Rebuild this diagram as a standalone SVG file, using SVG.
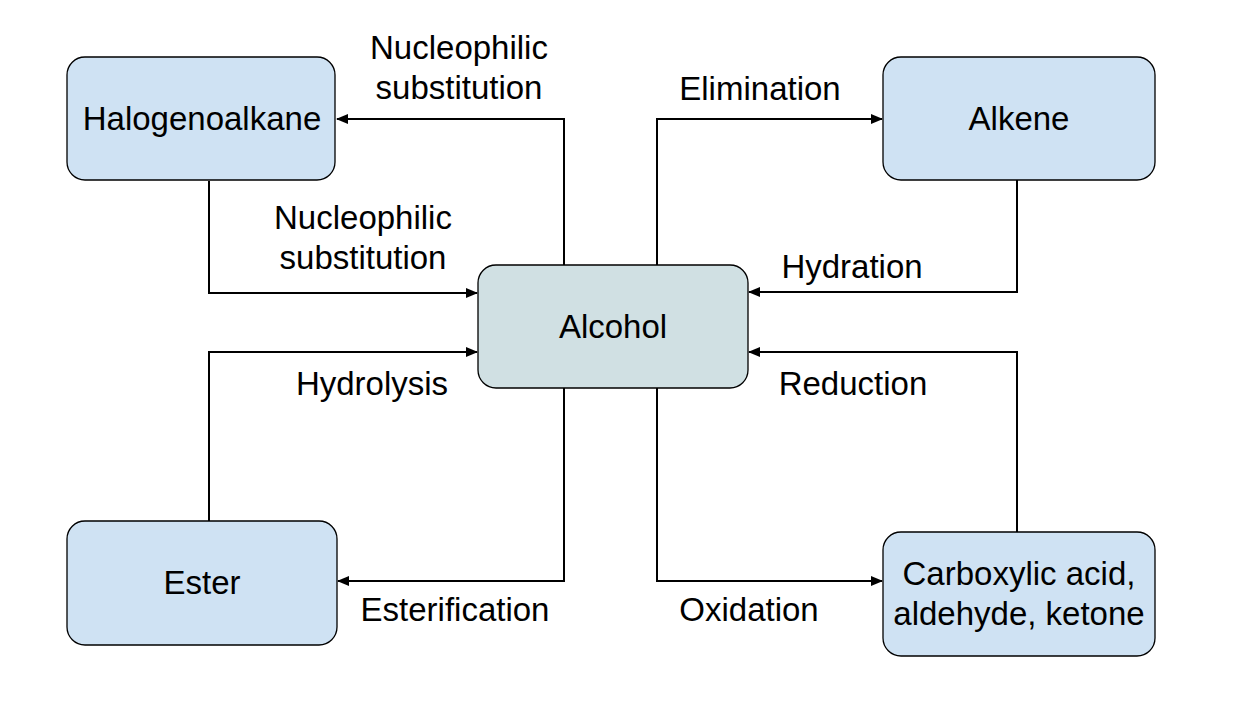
<svg xmlns="http://www.w3.org/2000/svg" width="1241" height="727" viewBox="0 0 1241 727">
<style>
.box{fill:#cfe2f3;stroke:#000;stroke-width:1.3}
.alc{fill:#d0e0e3;stroke:#000;stroke-width:1.3}
.t{font-family:"Liberation Sans",Arial,sans-serif;font-size:33px;fill:#000;text-anchor:middle}
.c{fill:none;stroke:#000;stroke-width:2}
</style>
<defs>
<marker id="ah" markerWidth="12" markerHeight="10" refX="11" refY="5" orient="auto" markerUnits="userSpaceOnUse">
<path d="M0,0 L12,5 L0,10 Z" fill="#000"/>
</marker>
</defs>
<rect width="1241" height="727" fill="#fff"/>
<g id="connectors">
<path class="c" d="M564,265 V119 H337" marker-end="url(#ah)"/>
<path class="c" d="M209,181 V293 H477" marker-end="url(#ah)"/>
<path class="c" d="M657,265 V119 H882" marker-end="url(#ah)"/>
<path class="c" d="M1017,180 V292 H749" marker-end="url(#ah)"/>
<path class="c" d="M209,521 V352 H477" marker-end="url(#ah)"/>
<path class="c" d="M1017,532 V352 H749" marker-end="url(#ah)"/>
<path class="c" d="M564,388 V581 H338" marker-end="url(#ah)"/>
<path class="c" d="M657,388 V581 H882" marker-end="url(#ah)"/>
</g>
<g id="labels">
<text class="t" x="459" y="59">Nucleophilic</text>
<text class="t" x="459" y="99">substitution</text>
<text class="t" x="760" y="100">Elimination</text>
<text class="t" x="363" y="229">Nucleophilic</text>
<text class="t" x="363" y="269">substitution</text>
<text class="t" x="852" y="278">Hydration</text>
<text class="t" x="372" y="395">Hydrolysis</text>
<text class="t" x="853" y="395">Reduction</text>
<text class="t" x="455" y="621">Esterification</text>
<text class="t" x="749" y="621">Oxidation</text>
</g>
<g id="halogenoalkane">
<rect class="box" x="67" y="57" width="268" height="123" rx="18"/>
<text class="t" x="202" y="130">Halogenoalkane</text>
</g>
<g id="alkene">
<rect class="box" x="883" y="57" width="272" height="123" rx="18"/>
<text class="t" x="1019" y="130">Alkene</text>
</g>
<g id="alcohol">
<rect class="alc" x="478" y="265" width="270" height="123" rx="18"/>
<text class="t" x="613" y="338">Alcohol</text>
</g>
<g id="ester">
<rect class="box" x="67" y="521" width="270" height="124" rx="18"/>
<text class="t" x="202" y="594">Ester</text>
</g>
<g id="carboxylic">
<rect class="box" x="883" y="532" width="272" height="124" rx="18"/>
<text class="t" x="1019" y="585">Carboxylic acid,</text>
<text class="t" x="1019" y="625">aldehyde, ketone</text>
</g>
</svg>
